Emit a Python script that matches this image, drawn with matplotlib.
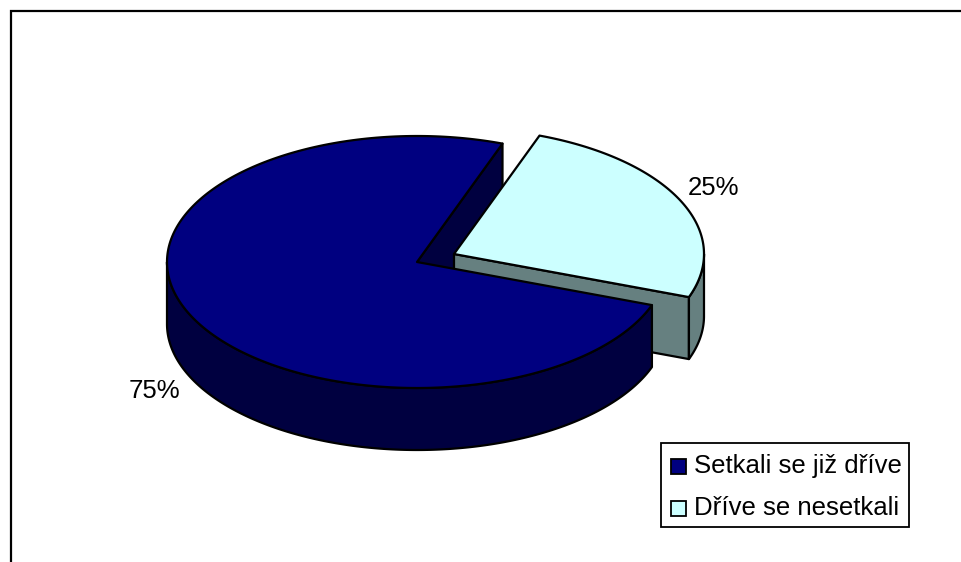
import numpy as np
import matplotlib
matplotlib.use("Agg")
import matplotlib.pyplot as plt
from matplotlib.patches import Polygon, Rectangle

categories = ["Setkali se již dříve", "Dříve se nesetkali"]
values = [75, 25]
labels = ["75%", "25%"]
top_colors = ["#000080", "#CCFFFF"]
side_colors = ["#000040", "#668080"]

plt.rcParams['font.family'] = ['Liberation Sans', 'DejaVu Sans']
W, H = 962, 562
fig = plt.figure(figsize=(W / 100, H / 100), dpi=100)
ax = fig.add_axes([0, 0, 1, 1])
ax.set_xlim(0, W)
ax.set_ylim(H, 0)
ax.axis("off")

RX, RY, DEPTH = 250.0, 126.0, 62.0
CENTERS = [(417.0, 262.0), (454.0, 254.0)]
START = 70.0
LW = 1.6
FS = 18.5

total = sum(values)
sweeps = [v / total * 360 for v in values]
small_a = (START, START - sweeps[1])
large_a = (START, START + sweeps[0])


def pt(c, t, dz=0.0):
    t = np.radians(t)
    return np.column_stack([c[0] + RX * np.cos(t), c[1] - RY * np.sin(t) + dz])


def arc(c, a0, a1, dz=0.0):
    return pt(c, np.linspace(a0, a1, 240), dz)


def poly(p, color, z):
    ax.add_patch(Polygon(p, closed=True, facecolor=color, edgecolor="black",
                         linewidth=LW, joinstyle="round", zorder=z))


def wall(c, a0, a1, color, z):
    poly(np.vstack([arc(c, a0, a1), arc(c, a1, a0, DEPTH)]), color, z)


cL, cS = CENTERS
ax.plot([11, 11, W + 5], [H + 5, 11, 11], color="black", lw=1.6, zorder=0, solid_joinstyle="miter")

p0 = np.array([cL])
p1 = pt(cL, large_a[0])
poly(np.vstack([p0, p1, p1 + [0, DEPTH], p0 + [0, DEPTH]]), side_colors[0], 1)

q0 = np.array([cS])
q1 = pt(cS, small_a[1])
poly(np.vstack([q0, q1, q1 + [0, DEPTH], q0 + [0, DEPTH]]), side_colors[1], 2)
wall(cS, small_a[1], 0, side_colors[1], 2)
poly(np.vstack([q0, arc(cS, small_a[0], small_a[1])]), top_colors[1], 3)

wall(cL, 180, large_a[1], side_colors[0], 4)
poly(np.vstack([p0, arc(cL, large_a[0], large_a[1])]), top_colors[0], 5)

ax.text(154.5, 398, labels[0], ha="center", va="baseline", fontsize=FS, zorder=6)
ax.text(714, 195, labels[1], ha="center", va="baseline", fontsize=FS, zorder=6)

# legend box
ax.add_patch(Rectangle((661, 443), 248, 84, facecolor="white", edgecolor="black", linewidth=1.3, zorder=7))
for i, (name, col) in enumerate(zip(categories, top_colors)):
    ax.add_patch(Rectangle((671, 459 + 42 * i), 15, 15, facecolor=col, edgecolor="black", linewidth=1.3, zorder=8))
    ax.text(694, 473 + 42 * i, name, ha="left", va="baseline", fontsize=FS, zorder=8)

fig.savefig("out.png", dpi=100)
